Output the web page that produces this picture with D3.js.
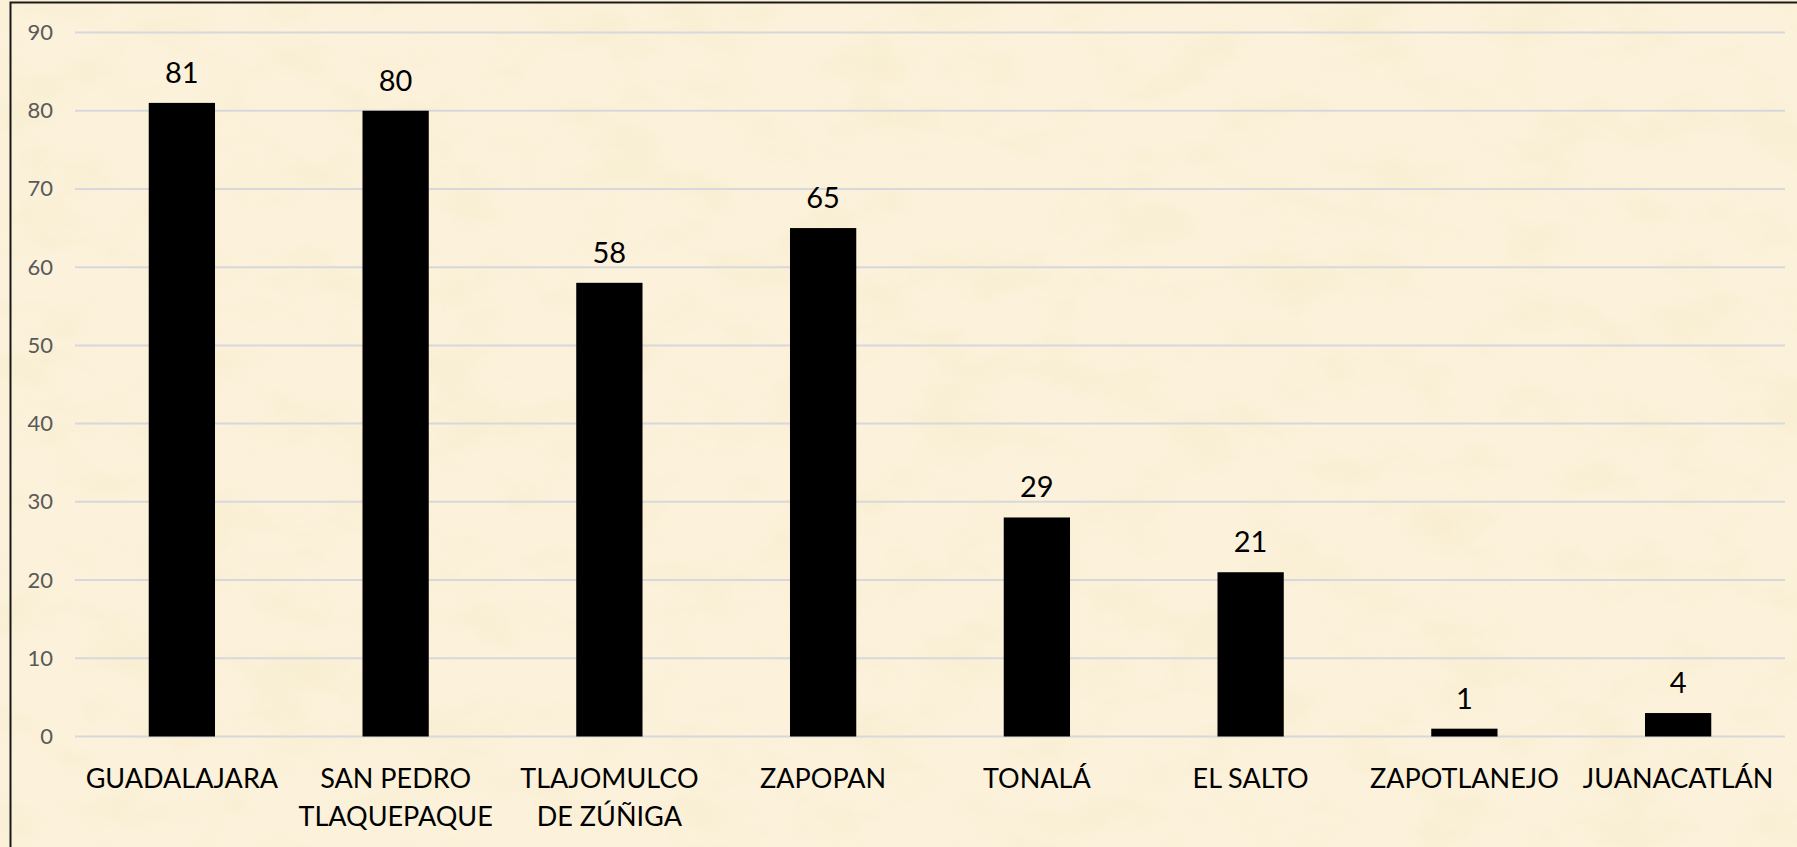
<!DOCTYPE html>
<html>
<head>
<meta charset="utf-8">
<script src="https://cdn.jsdelivr.net/npm/d3@7"></script>
<style>
  html, body { margin: 0; padding: 0; background: #fbf0d8; }
  svg { display: block; }
</style>
</head>
<body>
<svg id="chart" width="1797" height="847"></svg>
<script>
// ---- data ----
const categories = [
  ["GUADALAJARA"],
  ["SAN PEDRO", "TLAQUEPAQUE"],
  ["TLAJOMULCO", "DE ZÚÑIGA"],
  ["ZAPOPAN"],
  ["TONALÁ"],
  ["EL SALTO"],
  ["ZAPOTLANEJO"],
  ["JUANACATLÁN"]
];
const barValues   = [81, 80, 58, 65, 28, 21, 1, 3];
const labelValues = [81, 80, 58, 65, 29, 21, 1, 4];
const yTicks = [0, 10, 20, 30, 40, 50, 60, 70, 80, 90];

// ---- layout ----
const W = 1797, H = 847;
const margin = { left: 75, right: 12, top: 32.5, bottom: 110.5 };
const svg = d3.select("#chart");

// parchment background
const defs = svg.append("defs");
const f = defs.append("filter").attr("id", "parch").attr("x", 0).attr("y", 0).attr("width", "100%").attr("height", "100%");
f.append("feTurbulence").attr("type", "fractalNoise").attr("baseFrequency", "0.012 0.02").attr("numOctaves", 4).attr("seed", 7).attr("result", "n");
f.append("feColorMatrix").attr("in", "n").attr("type", "matrix")
  .attr("values", "0 0 0 0 0.92  0 0 0 0 0.83  0 0 0 0 0.58  1.5 0 0 0 -0.6");
svg.append("rect").attr("width", W).attr("height", H).attr("fill", "#fcf2dc");
svg.append("rect").attr("width", W).attr("height", H).attr("filter", "url(#parch)").attr("opacity", 0.75);

const x = d3.scaleBand()
  .domain(d3.range(categories.length))
  .range([margin.left, W - margin.right])
  .paddingInner(0.69)
  .paddingOuter(0.345);

const y = d3.scaleLinear().domain([0, 90]).range([H - margin.bottom, margin.top]);

// gridlines
svg.append("g").selectAll("line").data(yTicks).join("line")
  .attr("x1", margin.left).attr("x2", W - margin.right)
  .attr("y1", d => y(d)).attr("y2", d => y(d))
  .attr("stroke", "#d6d8dc").attr("stroke-width", 2);

// y axis labels
const yAxis = d3.axisLeft(y).tickValues(yTicks).tickSize(0).tickPadding(0);
const ya = svg.append("g").attr("transform", `translate(53,0)`).call(yAxis);
ya.select(".domain").remove();
ya.selectAll("text")
  .attr("font-family", "Lato, 'Open Sans', sans-serif")
  .attr("font-size", 22)
  .attr("fill", "#595959");

// bars
svg.append("g").selectAll("rect").data(barValues).join("rect")
  .attr("x", (d, i) => x(i))
  .attr("width", x.bandwidth())
  .attr("y", d => y(d))
  .attr("height", d => y(0) - y(d))
  .attr("fill", "#000");

// data labels
svg.append("g").selectAll("text").data(labelValues).join("text")
  .attr("x", (d, i) => x(i) + x.bandwidth() / 2)
  .attr("y", (d, i) => y(barValues[i]) - 20)
  .attr("text-anchor", "middle")
  .attr("font-family", "Lato, 'Open Sans', sans-serif")
  .attr("font-size", 29)
  .attr("fill", "#000")
  .text(d => d);

// category labels
const cat = svg.append("g").selectAll("text").data(categories).join("text")
  .attr("x", (d, i) => x(i) + x.bandwidth() / 2)
  .attr("y", 788)
  .attr("text-anchor", "middle")
  .attr("font-family", "Lato, 'Open Sans', sans-serif")
  .attr("font-size", 27)
  .attr("fill", "#000");
cat.selectAll("tspan").data(d => d).join("tspan")
  .attr("x", function () { return d3.select(this.parentNode).attr("x"); })
  .attr("dy", (d, j) => j === 0 ? 0 : 38)
  .text(d => d);

// border
svg.append("rect")
  .attr("x", 10.5).attr("y", 2.5)
  .attr("width", W + 20).attr("height", H + 20)
  .attr("fill", "none").attr("stroke", "#1a1a1a").attr("stroke-width", 2);
</script>
</body>
</html>
